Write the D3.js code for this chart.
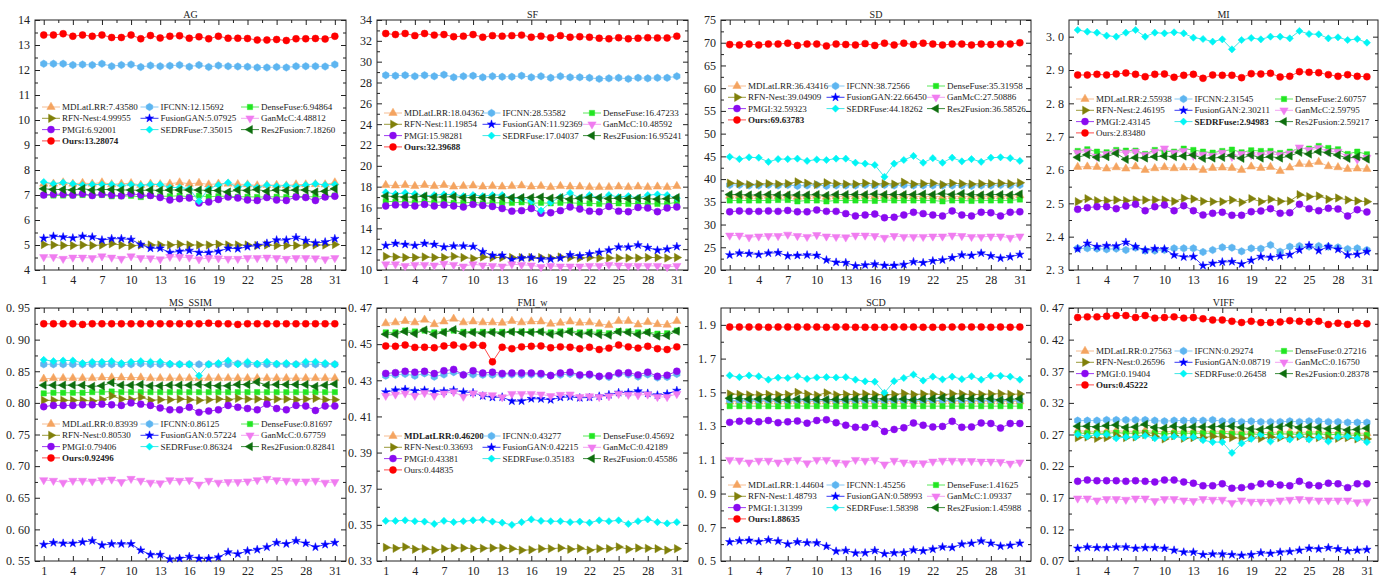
<!DOCTYPE html>
<html>
<head>
<meta charset="utf-8">
<script src="https://cdn.jsdelivr.net/npm/d3@7"></script>
<style>
  body { margin: 0; background: #fff; }
  svg { display: block; font-family: "Liberation Serif", "Times New Roman", serif; }
</style>
</head>
<body>
<svg id="chart" width="1379" height="577"></svg>
<script>
// ---------- shared labels ----------
const methods = ["MDLatLRR", "IFCNN", "DenseFuse", "RFN-Nest", "FusionGAN", "GanMcC", "PMGI", "SEDRFuse", "Res2Fusion", "Ours"];
const imageIndex = d3.range(1, 32);
const xTickLabels = [1, 4, 7, 10, 13, 16, 19, 22, 25, 28, 31];
const metricTitles = ["AG", "SF", "SD", "MI", "MS_SSIM", "FMI_w", "SCD", "VIFF"];
const yDomains = [[4, 14], [10, 34], [20, 75], [2.3, 3.05], [0.55, 0.95], [0.33, 0.47], [0.5, 2.0], [0.07, 0.47]];
const yTickSteps = [1, 2, 5, 0.1, 0.05, 0.02, 0.2, 0.05];
const yTickDecimals = [0, 0, 0, 1, 2, 2, 1, 2];
const boldEntry = [9, 9, 9, 7, 9, 0, 9, 9];

// ---------- legend averages ----------
const agLegend = ["7.43580", "12.15692", "6.94864", "4.99955", "5.07925", "4.48812", "6.92001", "7.35015", "7.18260", "13.28074"];
const sfLegend = ["18.04362", "28.53582", "16.47233", "11.19854", "11.92369", "10.48592", "15.98281", "17.04037", "16.95241", "32.39688"];
const sdLegend = ["36.43416", "38.72566", "35.31958", "39.04909", "22.66450", "27.50886", "32.59323", "44.18262", "36.58526", "69.63783"];
const miLegend = ["2.55938", "2.31545", "2.60757", "2.46195", "2.30211", "2.59795", "2.43145", "2.94983", "2.59217", "2.83480"];
const msLegend = ["0.83939", "0.86125", "0.81697", "0.80530", "0.57224", "0.67759", "0.79406", "0.86324", "0.82841", "0.92496"];
const fmiLegend = ["0.46200", "0.43277", "0.45692", "0.33693", "0.42215", "0.42189", "0.43381", "0.35183", "0.45586", "0.44835"];
const scdLegend = ["1.44604", "1.45256", "1.41625", "1.48793", "0.58993", "1.09337", "1.31399", "1.58398", "1.45988", "1.88635"];
const viffLegend = ["0.27563", "0.29274", "0.27216", "0.26596", "0.08719", "0.16750", "0.19404", "0.26458", "0.28378", "0.45222"];

// ---------- AG ----------
const AG_MDLatLRR = [7.45,7.45,7.50,7.45,7.48,7.45,7.50,7.43,7.45,7.47,7.40,7.45,7.43,7.45,7.50,7.45,7.48,7.42,7.45,7.45,7.43,7.42,7.38,7.40,7.40,7.38,7.42,7.42,7.43,7.42,7.50];
const AG_IFCNN = [12.25,12.25,12.25,12.20,12.22,12.20,12.25,12.15,12.20,12.22,12.12,12.18,12.15,12.17,12.20,12.13,12.20,12.12,12.18,12.15,12.14,12.13,12.10,12.10,12.12,12.10,12.15,12.15,12.15,12.14,12.22];
const AG_DenseFuse = [7.00,6.98,6.98,6.98,7.00,6.98,7.00,6.95,6.95,6.97,6.92,6.97,6.95,6.95,6.97,6.93,6.97,6.93,6.95,6.95,6.93,6.93,6.92,6.92,6.93,6.92,6.95,6.93,6.93,6.93,6.98];
const AG_RFNNest = [5.02,5.00,4.98,4.98,5.00,4.98,5.00,5.05,5.00,4.97,5.00,5.00,5.00,5.00,5.03,5.00,5.00,5.00,5.03,5.00,5.00,5.00,4.98,5.00,4.98,4.98,4.98,5.00,5.00,5.00,5.02];
const AG_FusionGAN = [5.27,5.35,5.32,5.28,5.35,5.32,5.20,5.25,5.25,5.22,5.02,4.87,4.87,4.70,4.75,4.78,4.70,4.70,4.75,4.87,4.85,4.93,4.98,5.07,5.20,5.20,5.30,5.18,5.08,5.12,5.25];
const AG_GanMcC = [4.52,4.52,4.45,4.50,4.50,4.48,4.55,4.50,4.45,4.55,4.48,4.47,4.43,4.53,4.52,4.50,4.43,4.48,4.47,4.45,4.45,4.48,4.48,4.50,4.48,4.45,4.48,4.48,4.47,4.43,4.48];
const AG_PMGI = [7.00,7.03,7.03,7.00,7.05,6.98,7.03,7.00,6.97,7.05,7.00,6.98,6.90,6.80,6.85,6.88,6.68,6.72,6.82,6.92,6.88,6.80,6.78,6.90,6.80,6.78,6.92,6.90,6.78,6.92,6.95];
const AG_SEDRFuse = [7.52,7.45,7.50,7.45,7.40,7.42,7.42,7.42,7.38,7.42,7.38,7.42,7.42,7.30,7.30,7.25,6.75,7.25,7.40,7.50,7.30,7.42,7.30,7.40,7.35,7.38,7.35,7.40,7.45,7.40,7.42];
const AG_Res2Fusion = [7.25,7.22,7.22,7.20,7.25,7.20,7.22,7.22,7.20,7.20,7.18,7.20,7.18,7.20,7.20,7.20,7.20,7.18,7.18,7.12,7.20,7.18,7.22,7.15,7.20,7.18,7.20,7.20,7.12,7.15,7.25];
const AG_Ours = [13.40,13.40,13.45,13.35,13.40,13.35,13.40,13.30,13.30,13.40,13.25,13.38,13.28,13.35,13.37,13.27,13.33,13.25,13.35,13.27,13.27,13.26,13.20,13.20,13.22,13.18,13.25,13.25,13.26,13.24,13.35];

// ---------- SF ----------
const SF_MDLatLRR = [18.15,18.10,18.15,18.05,18.15,18.05,18.15,18.00,18.05,18.10,18.00,18.05,18.00,18.05,18.10,18.00,18.05,17.95,18.05,18.00,18.00,17.95,17.95,17.95,18.00,17.95,18.00,17.95,18.00,17.95,18.05];
const SF_IFCNN = [28.70,28.65,28.70,28.60,28.70,28.60,28.75,28.50,28.60,28.65,28.50,28.60,28.55,28.55,28.65,28.50,28.60,28.45,28.60,28.50,28.50,28.45,28.35,28.40,28.45,28.35,28.45,28.40,28.45,28.45,28.60];
const SF_DenseFuse = [16.60,16.55,16.55,16.50,16.60,16.50,16.55,16.45,16.45,16.50,16.40,16.45,16.45,16.45,16.50,16.40,16.45,16.40,16.45,16.45,16.40,16.40,16.35,16.35,16.40,16.35,16.40,16.35,16.35,16.35,16.50];
const SF_RFNNest = [11.30,11.25,11.20,11.20,11.25,11.20,11.20,11.30,11.20,11.10,11.25,11.20,11.20,11.20,11.20,11.20,11.20,11.15,11.25,11.20,11.15,11.20,11.15,11.15,11.15,11.15,11.15,11.20,11.20,11.15,11.20];
const SF_FusionGAN = [12.35,12.55,12.45,12.35,12.55,12.45,12.20,12.30,12.30,12.25,11.75,11.40,11.40,11.00,11.15,11.20,11.05,11.05,11.15,11.45,11.35,11.55,11.70,11.90,12.20,12.20,12.40,12.15,11.90,12.00,12.25];
const SF_GanMcC = [10.55,10.55,10.40,10.50,10.50,10.45,10.60,10.50,10.35,10.55,10.45,10.40,10.35,10.55,10.50,10.45,10.30,10.40,10.35,10.35,10.35,10.40,10.40,10.50,10.45,10.40,10.40,10.40,10.40,10.30,10.40];
const SF_PMGI = [16.15,16.25,16.25,16.15,16.30,16.15,16.25,16.15,16.05,16.30,16.20,16.10,15.90,15.65,15.70,15.90,15.45,15.50,15.70,16.05,15.85,15.65,15.60,16.10,15.65,15.60,16.00,15.95,15.60,15.95,16.05];
const SF_SEDRFuse = [17.45,17.30,17.40,17.30,17.10,17.20,17.25,17.25,17.10,17.20,17.10,17.20,17.20,16.90,16.90,16.60,15.70,16.50,17.00,17.40,16.90,17.20,16.90,17.20,17.00,17.10,16.90,17.20,17.25,17.20,16.90];
const SF_Res2Fusion = [17.10,17.05,17.00,17.00,17.10,17.00,17.00,17.05,16.95,16.95,16.95,16.95,16.95,16.95,16.95,16.95,17.00,16.90,16.95,16.80,16.90,16.95,16.95,16.85,16.90,16.85,16.90,16.85,16.80,16.85,16.95];
const SF_Ours = [32.70,32.60,32.70,32.50,32.70,32.55,32.60,32.40,32.45,32.60,32.35,32.50,32.45,32.50,32.55,32.35,32.45,32.30,32.50,32.35,32.40,32.35,32.25,32.20,32.30,32.20,32.25,32.30,32.28,32.28,32.45];

// ---------- SD ----------
const SD_MDLatLRR = [36.3,36.3,36.2,36.2,36.3,36.2,36.3,36.1,36.2,36.3,36.1,36.2,36.2,36.2,36.3,36.2,36.3,36.2,36.3,36.2,36.2,36.2,36.1,36.2,36.2,36.1,36.2,36.2,36.2,36.2,36.4];
const SD_IFCNN = [38.7,38.7,38.6,38.6,38.7,38.6,38.7,38.5,38.6,38.7,38.5,38.6,38.6,38.6,38.7,38.6,38.7,38.6,38.7,38.6,38.6,38.6,38.6,38.6,38.6,38.5,38.6,38.6,38.7,38.6,38.7];
const SD_DenseFuse = [35.3,35.3,35.3,35.3,35.3,35.4,35.4,35.1,35.3,35.3,35.1,35.3,35.3,35.3,35.3,35.2,35.4,35.3,35.3,35.3,35.3,35.3,35.1,35.3,35.3,35.2,35.3,35.3,35.3,35.3,35.5];
const SD_RFNNest = [39.1,39.0,38.8,38.9,39.0,38.9,39.0,39.4,39.1,38.8,39.2,39.0,38.9,38.9,39.1,38.9,39.0,38.9,39.3,38.9,39.0,39.1,38.8,39.1,39.0,38.9,39.0,39.0,39.1,39.0,39.2];
const SD_FusionGAN = [23.3,23.7,23.6,23.4,23.7,23.8,23.1,23.2,23.3,23.2,22.2,21.7,21.6,20.9,21.1,21.3,21.0,21.0,21.2,21.8,21.6,22.0,22.2,22.7,23.3,23.2,23.7,23.1,22.6,22.9,23.4];
const SD_GanMcC = [27.6,27.6,27.2,27.4,27.5,27.5,27.8,27.5,27.3,27.7,27.4,27.3,27.2,27.6,27.6,27.5,27.1,27.5,27.3,27.3,27.3,27.4,27.4,27.6,27.5,27.3,27.3,27.4,27.4,27.1,27.4];
const SD_PMGI = [32.8,33.0,32.9,32.9,33.0,32.9,33.1,32.8,32.8,33.2,32.9,32.9,32.4,31.9,32.1,32.3,31.5,31.6,32.1,32.7,32.4,32.1,31.9,33.0,32.1,31.9,32.7,32.6,31.9,32.7,32.8];
const SD_SEDRFuse = [44.9,44.4,44.8,44.7,43.8,44.4,44.4,44.5,44.0,44.3,44.2,44.5,44.5,43.6,43.4,43.1,40.5,43.4,44.2,45.1,43.6,44.6,43.6,44.7,43.9,44.4,43.8,44.7,44.8,44.6,44.0];
const SD_Res2Fusion = [36.6,36.6,36.5,36.5,36.6,36.5,36.5,36.5,36.5,36.6,36.4,36.6,36.6,36.6,36.6,36.7,36.6,36.6,36.6,36.6,36.7,36.6,36.8,36.6,36.8,36.6,36.5,36.6,36.6,36.5,36.7];
const SD_Ours = [69.6,69.5,69.7,69.5,69.7,69.7,69.9,69.4,69.7,69.7,69.3,69.7,69.6,69.5,69.8,69.4,69.9,69.5,69.9,69.6,69.9,69.7,69.5,69.7,69.7,69.5,69.7,69.6,69.7,69.7,70.0];

// ---------- MI ----------
const MI_MDLatLRR = [2.609,2.610,2.609,2.604,2.608,2.604,2.610,2.600,2.605,2.608,2.605,2.607,2.607,2.600,2.606,2.607,2.606,2.600,2.610,2.606,2.609,2.597,2.607,2.618,2.617,2.624,2.611,2.608,2.603,2.604,2.603];
const MI_IFCNN = [2.365,2.365,2.364,2.362,2.364,2.360,2.367,2.358,2.358,2.360,2.365,2.365,2.365,2.354,2.360,2.368,2.367,2.356,2.365,2.364,2.375,2.355,2.370,2.372,2.370,2.372,2.370,2.368,2.363,2.365,2.360];
const MI_DenseFuse = [2.657,2.662,2.655,2.653,2.660,2.658,2.658,2.648,2.660,2.656,2.655,2.664,2.660,2.655,2.652,2.657,2.661,2.653,2.659,2.657,2.657,2.651,2.655,2.665,2.664,2.672,2.666,2.662,2.648,2.655,2.647];
const MI_RFNNest = [2.505,2.514,2.508,2.508,2.510,2.508,2.510,2.510,2.510,2.510,2.506,2.515,2.513,2.506,2.505,2.505,2.510,2.503,2.514,2.505,2.512,2.506,2.507,2.526,2.520,2.522,2.512,2.516,2.510,2.507,2.505];
const MI_FusionGAN = [2.363,2.380,2.370,2.373,2.372,2.383,2.370,2.360,2.364,2.363,2.345,2.339,2.340,2.313,2.320,2.324,2.325,2.318,2.329,2.340,2.338,2.342,2.346,2.360,2.374,2.358,2.370,2.362,2.345,2.347,2.355];
const MI_GanMcC = [2.652,2.656,2.640,2.648,2.655,2.652,2.655,2.645,2.655,2.665,2.652,2.657,2.643,2.646,2.643,2.652,2.640,2.648,2.645,2.645,2.649,2.645,2.650,2.668,2.660,2.666,2.655,2.655,2.640,2.632,2.637];
const MI_PMGI = [2.482,2.487,2.490,2.490,2.484,2.492,2.497,2.478,2.490,2.495,2.478,2.493,2.478,2.465,2.470,2.473,2.464,2.464,2.475,2.477,2.484,2.470,2.472,2.497,2.484,2.478,2.485,2.483,2.462,2.481,2.474];
const MI_SEDRFuse = [3.020,3.015,3.012,3.003,3.000,3.012,3.020,3.000,3.012,3.010,3.013,3.010,2.997,2.993,2.985,2.992,2.962,2.990,2.996,2.992,3.000,3.000,2.995,3.017,3.008,3.007,2.995,2.998,2.990,2.993,2.982];
const MI_Res2Fusion = [2.638,2.646,2.638,2.640,2.650,2.632,2.637,2.636,2.640,2.642,2.640,2.642,2.645,2.635,2.636,2.638,2.644,2.635,2.645,2.636,2.640,2.636,2.642,2.653,2.648,2.655,2.652,2.645,2.635,2.640,2.633];
const MI_Ours = [2.885,2.885,2.887,2.885,2.888,2.891,2.887,2.880,2.887,2.888,2.878,2.884,2.887,2.875,2.885,2.884,2.884,2.877,2.889,2.888,2.890,2.879,2.881,2.895,2.893,2.892,2.886,2.881,2.886,2.881,2.880];

// ---------- MS_SSIM ----------
const MS_MDLatLRR = [0.838,0.839,0.839,0.839,0.839,0.839,0.840,0.840,0.840,0.840,0.840,0.839,0.839,0.839,0.839,0.839,0.839,0.839,0.839,0.839,0.839,0.839,0.839,0.839,0.839,0.839,0.839,0.839,0.839,0.839,0.839];
const MS_IFCNN = [0.861,0.861,0.861,0.861,0.861,0.861,0.861,0.861,0.861,0.861,0.862,0.861,0.861,0.861,0.861,0.861,0.861,0.861,0.861,0.861,0.862,0.861,0.861,0.861,0.861,0.861,0.861,0.861,0.861,0.861,0.861];
const MS_DenseFuse = [0.815,0.816,0.816,0.816,0.816,0.817,0.817,0.818,0.817,0.817,0.817,0.817,0.817,0.817,0.817,0.817,0.817,0.817,0.817,0.817,0.817,0.817,0.817,0.817,0.817,0.817,0.817,0.817,0.817,0.817,0.817];
const MS_RFNNest = [0.804,0.804,0.804,0.804,0.804,0.803,0.805,0.811,0.806,0.805,0.809,0.804,0.805,0.805,0.806,0.805,0.804,0.805,0.806,0.805,0.807,0.806,0.806,0.805,0.806,0.806,0.805,0.806,0.807,0.805,0.805];
const MS_FusionGAN = [0.576,0.579,0.578,0.578,0.580,0.582,0.575,0.577,0.577,0.577,0.567,0.560,0.560,0.553,0.554,0.557,0.554,0.554,0.556,0.564,0.561,0.566,0.568,0.572,0.579,0.577,0.582,0.578,0.572,0.576,0.579];
const MS_GanMcC = [0.678,0.677,0.674,0.677,0.677,0.676,0.678,0.679,0.675,0.680,0.677,0.674,0.673,0.678,0.677,0.678,0.671,0.677,0.674,0.675,0.675,0.676,0.678,0.680,0.678,0.677,0.676,0.676,0.677,0.674,0.675];
const MS_PMGI = [0.794,0.796,0.796,0.796,0.797,0.797,0.798,0.797,0.796,0.800,0.798,0.796,0.792,0.789,0.789,0.793,0.785,0.787,0.789,0.796,0.793,0.791,0.789,0.798,0.791,0.789,0.796,0.795,0.788,0.795,0.795];
const MS_SEDRFuse = [0.868,0.866,0.867,0.867,0.863,0.865,0.865,0.866,0.863,0.865,0.866,0.865,0.865,0.862,0.861,0.861,0.843,0.861,0.863,0.867,0.861,0.865,0.862,0.865,0.862,0.863,0.861,0.865,0.865,0.863,0.861];
const MS_Res2Fusion = [0.828,0.828,0.828,0.828,0.828,0.826,0.827,0.832,0.828,0.828,0.829,0.827,0.827,0.828,0.828,0.828,0.829,0.828,0.827,0.827,0.829,0.829,0.833,0.828,0.829,0.829,0.829,0.829,0.826,0.828,0.830];
const MS_Ours = [0.925,0.925,0.925,0.925,0.924,0.925,0.925,0.925,0.925,0.925,0.925,0.925,0.925,0.925,0.925,0.925,0.925,0.926,0.925,0.925,0.924,0.925,0.925,0.925,0.925,0.925,0.925,0.925,0.925,0.925,0.925];

// ---------- FMI_w ----------
const FMI_MDLatLRR = [0.4615,0.4620,0.4628,0.4620,0.4635,0.4610,0.4625,0.4640,0.4620,0.4625,0.4620,0.4620,0.4618,0.4628,0.4620,0.4625,0.4625,0.4612,0.4618,0.4625,0.4618,0.4620,0.4612,0.4605,0.4628,0.4628,0.4608,0.4622,0.4610,0.4607,0.4628];
const FMI_IFCNN = [0.4325,0.4330,0.4335,0.4325,0.4338,0.4320,0.4332,0.4345,0.4330,0.4332,0.4330,0.4330,0.4330,0.4332,0.4330,0.4332,0.4330,0.4325,0.4330,0.4335,0.4325,0.4328,0.4320,0.4318,0.4335,0.4332,0.4320,0.4332,0.4315,0.4318,0.4335];
const FMI_DenseFuse = [0.4565,0.4565,0.4575,0.4570,0.4575,0.4565,0.4570,0.4575,0.4568,0.4570,0.4568,0.4570,0.4568,0.4570,0.4570,0.4570,0.4570,0.4565,0.4570,0.4575,0.4565,0.4568,0.4565,0.4560,0.4572,0.4570,0.4565,0.4568,0.4558,0.4560,0.4575];
const FMI_RFNNest = [0.3375,0.3370,0.3378,0.3365,0.3368,0.3360,0.3368,0.3372,0.3372,0.3368,0.3370,0.3372,0.3372,0.3368,0.3360,0.3362,0.3368,0.3368,0.3372,0.3365,0.3370,0.3360,0.3368,0.3368,0.3378,0.3365,0.3372,0.3370,0.3368,0.3360,0.3368];
const FMI_FusionGAN = [0.4235,0.4245,0.4250,0.4242,0.4245,0.4237,0.4240,0.4245,0.4235,0.4232,0.4213,0.4205,0.4207,0.4185,0.4185,0.4198,0.4197,0.4192,0.4205,0.4208,0.4203,0.4205,0.4212,0.4220,0.4232,0.4232,0.4240,0.4228,0.4218,0.4225,0.4243];
const FMI_GanMcC = [0.4215,0.4222,0.4228,0.4215,0.4230,0.4215,0.4228,0.4235,0.4210,0.4228,0.4220,0.4218,0.4207,0.4225,0.4225,0.4225,0.4222,0.4213,0.4220,0.4222,0.4208,0.4212,0.4208,0.4212,0.4225,0.4220,0.4218,0.4222,0.4208,0.4208,0.4225];
const FMI_PMGI = [0.4338,0.4342,0.4350,0.4345,0.4350,0.4337,0.4353,0.4360,0.4330,0.4353,0.4340,0.4345,0.4338,0.4340,0.4340,0.4340,0.4337,0.4327,0.4340,0.4345,0.4330,0.4333,0.4322,0.4325,0.4340,0.4342,0.4330,0.4345,0.4322,0.4328,0.4350];
const FMI_SEDRFuse = [0.3522,0.3522,0.3525,0.3520,0.3518,0.3505,0.3522,0.3515,0.3520,0.3525,0.3528,0.3518,0.3512,0.3500,0.3515,0.3530,0.3522,0.3520,0.3520,0.3515,0.3518,0.3512,0.3525,0.3520,0.3525,0.3505,0.3520,0.3530,0.3515,0.3508,0.3515];
const FMI_Res2Fusion = [0.4555,0.4555,0.4570,0.4558,0.4578,0.4553,0.4565,0.4580,0.4560,0.4565,0.4560,0.4565,0.4560,0.4568,0.4565,0.4565,0.4568,0.4555,0.4560,0.4568,0.4555,0.4560,0.4553,0.4550,0.4568,0.4565,0.4553,0.4565,0.4545,0.4548,0.4572];
const FMI_Ours = [0.4490,0.4488,0.4495,0.4482,0.4483,0.4480,0.4490,0.4495,0.4485,0.4495,0.4493,0.4402,0.4483,0.4475,0.4485,0.4488,0.4490,0.4480,0.4485,0.4483,0.4475,0.4483,0.4470,0.4478,0.4495,0.4485,0.4478,0.4488,0.4475,0.4470,0.4485];

// ---------- SCD ----------
const SCD_MDLatLRR = [1.445,1.446,1.446,1.445,1.447,1.445,1.446,1.448,1.446,1.445,1.447,1.445,1.446,1.446,1.446,1.446,1.445,1.446,1.447,1.446,1.446,1.446,1.446,1.447,1.446,1.446,1.446,1.446,1.446,1.446,1.446];
const SCD_IFCNN = [1.452,1.452,1.452,1.452,1.453,1.452,1.452,1.453,1.452,1.452,1.453,1.452,1.452,1.452,1.452,1.452,1.451,1.452,1.452,1.452,1.452,1.452,1.452,1.453,1.452,1.452,1.452,1.452,1.452,1.452,1.452];
const SCD_DenseFuse = [1.418,1.418,1.418,1.418,1.418,1.417,1.418,1.419,1.418,1.418,1.418,1.418,1.418,1.418,1.418,1.418,1.417,1.418,1.418,1.418,1.418,1.418,1.418,1.418,1.418,1.418,1.418,1.418,1.418,1.418,1.418];
const SCD_RFNNest = [1.490,1.488,1.485,1.485,1.488,1.485,1.487,1.500,1.490,1.483,1.497,1.485,1.488,1.487,1.490,1.487,1.485,1.487,1.493,1.487,1.490,1.490,1.485,1.492,1.490,1.487,1.488,1.490,1.492,1.488,1.490];
const SCD_FusionGAN = [0.613,0.620,0.622,0.615,0.625,0.618,0.600,0.613,0.608,0.607,0.587,0.558,0.562,0.547,0.548,0.562,0.543,0.548,0.550,0.565,0.560,0.570,0.583,0.580,0.600,0.605,0.618,0.605,0.588,0.593,0.605];
const SCD_GanMcC = [1.100,1.097,1.085,1.095,1.095,1.085,1.095,1.100,1.080,1.100,1.100,1.085,1.080,1.100,1.095,1.100,1.073,1.095,1.085,1.080,1.080,1.090,1.095,1.095,1.093,1.093,1.090,1.090,1.088,1.078,1.085];
const SCD_PMGI = [1.322,1.328,1.330,1.325,1.333,1.320,1.325,1.330,1.317,1.333,1.337,1.320,1.305,1.293,1.293,1.313,1.268,1.280,1.290,1.318,1.305,1.295,1.298,1.328,1.293,1.295,1.318,1.315,1.288,1.315,1.315];
const SCD_SEDRFuse = [1.600,1.590,1.600,1.595,1.575,1.587,1.585,1.595,1.580,1.588,1.590,1.588,1.590,1.575,1.565,1.563,1.497,1.566,1.585,1.605,1.570,1.593,1.577,1.593,1.578,1.595,1.575,1.598,1.598,1.593,1.575];
const SCD_Res2Fusion = [1.465,1.463,1.460,1.460,1.462,1.458,1.458,1.460,1.458,1.458,1.457,1.458,1.458,1.460,1.462,1.463,1.460,1.460,1.460,1.455,1.460,1.462,1.468,1.460,1.465,1.462,1.462,1.462,1.455,1.458,1.462];
const SCD_Ours = [1.887,1.887,1.887,1.887,1.886,1.887,1.887,1.887,1.887,1.887,1.886,1.887,1.887,1.886,1.886,1.886,1.886,1.887,1.887,1.887,1.886,1.886,1.886,1.887,1.887,1.887,1.887,1.886,1.887,1.886,1.887];

// ---------- VIFF ----------
const VIFF_MDLatLRR = [0.276,0.275,0.275,0.275,0.276,0.275,0.275,0.276,0.275,0.274,0.275,0.275,0.275,0.275,0.275,0.275,0.274,0.274,0.274,0.273,0.273,0.274,0.274,0.273,0.274,0.274,0.273,0.273,0.272,0.272,0.272];
const VIFF_IFCNN = [0.292,0.292,0.292,0.293,0.293,0.293,0.293,0.293,0.292,0.291,0.292,0.292,0.292,0.292,0.293,0.291,0.291,0.290,0.291,0.290,0.290,0.290,0.291,0.290,0.291,0.291,0.290,0.290,0.289,0.289,0.289];
const VIFF_DenseFuse = [0.272,0.272,0.272,0.272,0.273,0.272,0.272,0.273,0.272,0.271,0.272,0.272,0.272,0.272,0.272,0.272,0.271,0.270,0.271,0.270,0.270,0.271,0.271,0.270,0.271,0.271,0.270,0.270,0.269,0.269,0.269];
const VIFF_RFNNest = [0.265,0.266,0.264,0.265,0.268,0.265,0.266,0.270,0.267,0.263,0.268,0.264,0.265,0.265,0.267,0.266,0.265,0.264,0.265,0.264,0.266,0.265,0.265,0.267,0.265,0.265,0.264,0.264,0.265,0.263,0.263];
const VIFF_FusionGAN = [0.090,0.092,0.091,0.091,0.092,0.092,0.090,0.091,0.091,0.090,0.087,0.084,0.084,0.080,0.081,0.081,0.080,0.079,0.080,0.083,0.082,0.084,0.085,0.087,0.090,0.089,0.091,0.089,0.086,0.087,0.088];
const VIFF_GanMcC = [0.169,0.169,0.166,0.168,0.168,0.167,0.169,0.169,0.165,0.168,0.168,0.166,0.165,0.168,0.167,0.167,0.162,0.166,0.164,0.164,0.164,0.166,0.167,0.168,0.167,0.166,0.166,0.166,0.166,0.163,0.164];
const VIFF_PMGI = [0.196,0.198,0.197,0.197,0.197,0.196,0.197,0.196,0.195,0.198,0.198,0.195,0.193,0.189,0.189,0.192,0.185,0.186,0.188,0.192,0.192,0.190,0.189,0.196,0.190,0.189,0.193,0.192,0.186,0.192,0.192];
const VIFF_SEDRFuse = [0.270,0.267,0.270,0.270,0.264,0.266,0.266,0.268,0.264,0.265,0.267,0.265,0.266,0.261,0.258,0.258,0.241,0.256,0.263,0.270,0.259,0.267,0.262,0.268,0.262,0.266,0.259,0.266,0.267,0.264,0.258];
const VIFF_Res2Fusion = [0.283,0.283,0.282,0.284,0.285,0.281,0.282,0.286,0.281,0.280,0.283,0.281,0.282,0.282,0.282,0.283,0.283,0.281,0.279,0.278,0.281,0.282,0.285,0.281,0.282,0.281,0.279,0.280,0.277,0.278,0.280];
const VIFF_Ours = [0.455,0.456,0.456,0.457,0.458,0.458,0.455,0.458,0.454,0.455,0.456,0.454,0.455,0.453,0.451,0.451,0.449,0.447,0.449,0.447,0.447,0.448,0.450,0.449,0.448,0.449,0.444,0.446,0.444,0.446,0.445];

// ---------- assemble panels ----------
const panelSeries = [
  [AG_MDLatLRR, AG_IFCNN, AG_DenseFuse, AG_RFNNest, AG_FusionGAN, AG_GanMcC, AG_PMGI, AG_SEDRFuse, AG_Res2Fusion, AG_Ours],
  [SF_MDLatLRR, SF_IFCNN, SF_DenseFuse, SF_RFNNest, SF_FusionGAN, SF_GanMcC, SF_PMGI, SF_SEDRFuse, SF_Res2Fusion, SF_Ours],
  [SD_MDLatLRR, SD_IFCNN, SD_DenseFuse, SD_RFNNest, SD_FusionGAN, SD_GanMcC, SD_PMGI, SD_SEDRFuse, SD_Res2Fusion, SD_Ours],
  [MI_MDLatLRR, MI_IFCNN, MI_DenseFuse, MI_RFNNest, MI_FusionGAN, MI_GanMcC, MI_PMGI, MI_SEDRFuse, MI_Res2Fusion, MI_Ours],
  [MS_MDLatLRR, MS_IFCNN, MS_DenseFuse, MS_RFNNest, MS_FusionGAN, MS_GanMcC, MS_PMGI, MS_SEDRFuse, MS_Res2Fusion, MS_Ours],
  [FMI_MDLatLRR, FMI_IFCNN, FMI_DenseFuse, FMI_RFNNest, FMI_FusionGAN, FMI_GanMcC, FMI_PMGI, FMI_SEDRFuse, FMI_Res2Fusion, FMI_Ours],
  [SCD_MDLatLRR, SCD_IFCNN, SCD_DenseFuse, SCD_RFNNest, SCD_FusionGAN, SCD_GanMcC, SCD_PMGI, SCD_SEDRFuse, SCD_Res2Fusion, SCD_Ours],
  [VIFF_MDLatLRR, VIFF_IFCNN, VIFF_DenseFuse, VIFF_RFNNest, VIFF_FusionGAN, VIFF_GanMcC, VIFF_PMGI, VIFF_SEDRFuse, VIFF_Res2Fusion, VIFF_Ours]
];
const panelLegends = [agLegend, sfLegend, sdLegend, miLegend, msLegend, fmiLegend, scdLegend, viffLegend];

// ---------- marker styles ----------
const symbolHexagon = {
  draw(ctx, size) {
    const r = Math.sqrt(size / (1.5 * Math.sqrt(3)));
    for (let k = 0; k < 6; k++) {
      const a = Math.PI / 3 * k + Math.PI / 6;
      const px = r * Math.cos(a), py = r * Math.sin(a);
      if (k) ctx.lineTo(px, py); else ctx.moveTo(px, py);
    }
    ctx.closePath();
  }
};
const seriesStyle = [
  { fill: "#F4A460", line: "#F6BD92", type: d3.symbolTriangle, size: 30, rot: 0 },
  { fill: "#5DB5F0", line: "#86C8F3", type: symbolHexagon, size: 36, rot: 0 },
  { fill: "#22E622", line: "#5BE85B", type: d3.symbolSquare, size: 28, rot: 0 },
  { fill: "#80800A", line: "#9A9A3A", type: d3.symbolTriangle, size: 30, rot: 90 },
  { fill: "#0000FF", line: "#3A3AF5", type: d3.symbolStar, size: 22, rot: 0 },
  { fill: "#F07CF0", line: "#F2A2F2", type: d3.symbolTriangle, size: 30, rot: 180 },
  { fill: "#8A0AF0", line: "#9E3CF2", type: d3.symbolCircle, size: 38, rot: 0 },
  { fill: "#00F5F5", line: "#3FE6E6", type: d3.symbolSquare, size: 26, rot: 45 },
  { fill: "#0E6E0E", line: "#3E8E3E", type: d3.symbolTriangle, size: 30, rot: 270 },
  { fill: "#FF0000", line: "#FF4A4A", type: d3.symbolCircle, size: 38, rot: 0 }
];

// ---------- layout ----------
const colBounds = [[35, 346], [377, 688], [721, 1031], [1069, 1378]];
const rowBounds = [[20, 270], [308, 561]];
const legendTop = [87, 93, 66, 79, 116, 128, 177, 43];
const legendTextX = [27, 125.5, 226];
const legendRowGap = 11.3;

const svg = d3.select("#chart");
svg.append("rect").attr("width", 1379).attr("height", 577).attr("fill", "#fff");

function fmtTick(decimals) {
  return v => {
    const s = d3.format("." + decimals + "f")(v);
    return decimals > 0 ? s.replace(".", ". ") : s;
  };
}
function styleAxis(sel) {
  sel.select(".domain").remove();
  sel.selectAll(".tick line").attr("stroke", "#222").attr("stroke-width", 1);
  sel.selectAll(".tick text").attr("fill", "#222").attr("font-size", 12)
     .attr("font-family", '"Liberation Serif", "Times New Roman", serif');
}

panelSeries.forEach((seriesList, i) => {
  const [x0, x1] = colBounds[i % 4];
  const [y0, y1] = rowBounds[Math.floor(i / 4)];
  const w = x1 - x0, h = y1 - y0;
  const g = svg.append("g").attr("transform", `translate(${x0},${y0})`);

  const x = d3.scaleLinear().domain([0.1, 32.15]).range([0, w]);
  const y = d3.scaleLinear().domain(yDomains[i]).range([h, 0]);

  const [lo, hi] = yDomains[i];
  const step = yTickSteps[i];
  const nMajor = Math.floor((hi - lo) / step + 1e-6);
  const yMajor = d3.range(0, nMajor + 1).map(k => +(lo + k * step).toFixed(4));
  const yMinor = d3.range(0, nMajor + 1).map(k => +(lo + (k + 0.5) * step).toFixed(4)).filter(v => v < hi);
  const xMinor = xTickLabels.slice(0, -1).map(v => v + 1.5);

  // axes with inward ticks on all four sides
  g.append("g").call(d3.axisLeft(y).tickValues(yMajor).tickSize(-5).tickPadding(5).tickFormat(fmtTick(yTickDecimals[i]))).call(styleAxis);
  g.append("g").call(d3.axisLeft(y).tickValues(yMinor).tickSize(-3).tickFormat("")).call(styleAxis);
  g.append("g").attr("transform", `translate(${w},0)`).call(d3.axisRight(y).tickValues(yMajor).tickSize(-5).tickFormat("")).call(styleAxis);
  g.append("g").attr("transform", `translate(${w},0)`).call(d3.axisRight(y).tickValues(yMinor).tickSize(-3).tickFormat("")).call(styleAxis);
  g.append("g").attr("transform", `translate(0,${h})`).call(d3.axisBottom(x).tickValues(xTickLabels).tickSize(-5).tickPadding(5).tickFormat(d3.format("d"))).call(styleAxis);
  g.append("g").attr("transform", `translate(0,${h})`).call(d3.axisBottom(x).tickValues(xMinor).tickSize(-3).tickFormat("")).call(styleAxis);
  g.append("g").call(d3.axisTop(x).tickValues(xTickLabels).tickSize(-5).tickFormat("")).call(styleAxis);
  g.append("g").call(d3.axisTop(x).tickValues(xMinor).tickSize(-3).tickFormat("")).call(styleAxis);

  g.append("rect").attr("width", w).attr("height", h)
    .attr("fill", "none").attr("stroke", "#222").attr("stroke-width", 1);

  g.append("text").attr("x", w / 2).attr("y", -2.5).attr("text-anchor", "middle")
    .attr("font-size", 10).attr("fill", "#222").text(metricTitles[i]);

  // series: line first, then markers, in legend order
  const line = d3.line().x((d, k) => x(imageIndex[k])).y(d => y(d));
  seriesList.forEach((vals, s) => {
    const st = seriesStyle[s];
    g.append("path").datum(vals).attr("d", line)
      .attr("fill", "none").attr("stroke", st.line).attr("stroke-width", 1);
    const symPath = d3.symbol(st.type, st.size)();
    g.append("g").selectAll("path").data(vals).join("path")
      .attr("d", symPath)
      .attr("transform", (d, k) => `translate(${x(imageIndex[k])},${y(d)}) rotate(${st.rot})`)
      .attr("fill", st.fill).attr("stroke", st.fill).attr("stroke-width", 0.5);
  });

  // legend
  const lg = g.append("g");
  methods.forEach((name, s) => {
    const st = seriesStyle[s];
    const col = s === 9 ? 0 : s % 3;
    const row = s === 9 ? 3 : Math.floor(s / 3);
    const tx = legendTextX[col];
    const ty = legendTop[i] + row * legendRowGap;
    lg.append("line").attr("x1", tx - 20).attr("x2", tx - 2).attr("y1", ty).attr("y2", ty)
      .attr("stroke", st.line).attr("stroke-width", 1);
    lg.append("path").attr("d", d3.symbol(st.type, st.size)())
      .attr("transform", `translate(${tx - 11},${ty}) rotate(${st.rot})`)
      .attr("fill", st.fill).attr("stroke", st.fill).attr("stroke-width", 0.5);
    lg.append("text").attr("x", tx).attr("y", ty).attr("dy", "0.35em")
      .attr("font-size", 9).attr("fill", "#222")
      .attr("font-weight", boldEntry[i] === s ? "bold" : "normal")
      .text(`${name}:${panelLegends[i][s]}`);
  });
});
</script>
</body>
</html>
